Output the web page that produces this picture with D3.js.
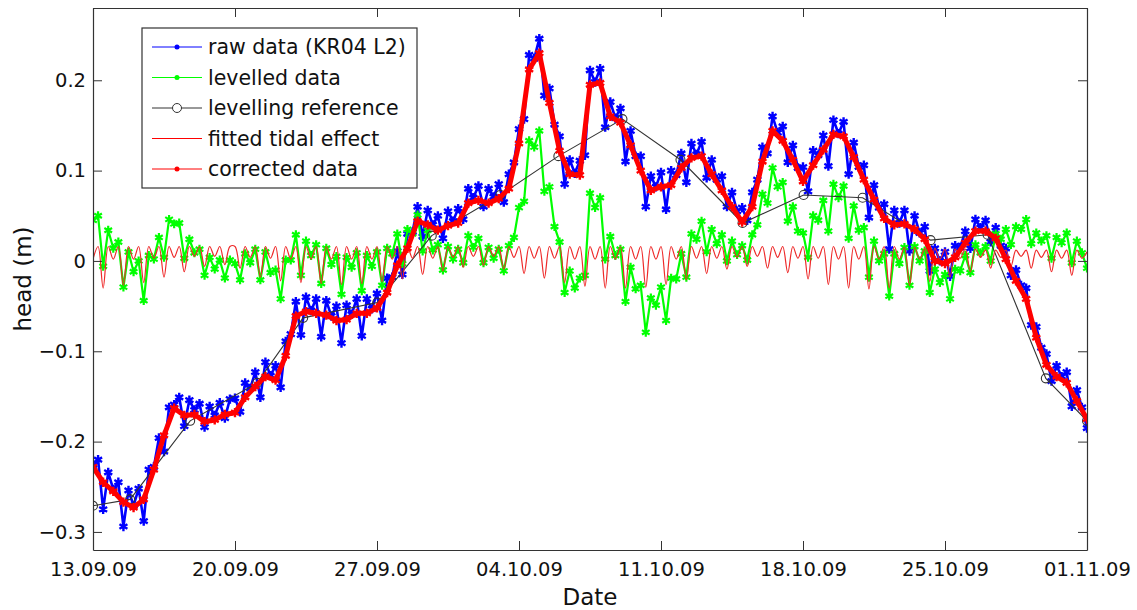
<!DOCTYPE html>
<html lang="en">
<head>
<meta charset="UTF-8">
<title>head (m) - KR04 L2</title>
<script src="https://d3js.org/d3.v7.min.js"></script>
<style>
  body { margin: 0; background: #fff; }
  svg text { font-family: "DejaVu Sans", Arial, sans-serif; fill: #111; }
  .axis path, .axis line { stroke: #333; }
</style>
</head>
<body>
<svg id="chart" width="1137" height="610"></svg>
<script>
// ---- data ----
const dateTicks = ["13.09.09", "20.09.09", "27.09.09", "04.10.09", "11.10.09", "18.10.09", "25.10.09", "01.11.09"];
const yTicks = [-0.3, -0.2, -0.1, 0, 0.1, 0.2];
const yDomain = [-0.32, 0.28];
const stepHours = 6;            // raw, levelled, tidal
const correctedStepHours = 12;  // corrected

const rawData = [
  -0.226, -0.220, -0.275, -0.234, -0.253, -0.245, -0.294, -0.254,
  -0.271, -0.252, -0.288, -0.231, -0.228, -0.196, -0.211, -0.162,
  -0.159, -0.151, -0.183, -0.154, -0.165, -0.158, -0.184, -0.161,
  -0.171, -0.157, -0.174, -0.153, -0.152, -0.167, -0.135, -0.141,
  -0.123, -0.151, -0.112, -0.127, -0.116, -0.140, -0.089, -0.081,
  -0.045, -0.082, -0.040, -0.055, -0.042, -0.084, -0.044, -0.061,
  -0.050, -0.091, -0.049, -0.059, -0.042, -0.083, -0.042, -0.053,
  -0.036, -0.066, -0.019, -0.018, 0.011, -0.015, 0.030, 0.032,
  0.060, 0.027, 0.056, 0.040, 0.050, 0.025, 0.055, 0.044,
  0.058, 0.046, 0.080, 0.070, 0.083, 0.060, 0.080, 0.071,
  0.085, 0.065, 0.096, 0.109, 0.146, 0.157, 0.228, 0.224,
  0.246, 0.183, 0.191, 0.151, 0.138, 0.085, 0.112, 0.097,
  0.111, 0.117, 0.211, 0.198, 0.213, 0.148, 0.176, 0.158,
  0.169, 0.110, 0.144, 0.116, 0.116, 0.060, 0.094, 0.082,
  0.098, 0.057, 0.100, 0.095, 0.119, 0.087, 0.130, 0.118,
  0.132, 0.092, 0.112, 0.090, 0.094, 0.060, 0.076, 0.055,
  0.059, 0.045, 0.076, 0.090, 0.126, 0.119, 0.160, 0.142,
  0.149, 0.109, 0.128, 0.103, 0.104, 0.077, 0.122, 0.117,
  0.139, 0.105, 0.156, 0.141, 0.154, 0.096, 0.131, 0.104,
  0.106, 0.048, 0.084, 0.059, 0.063, 0.013, 0.056, 0.042,
  0.056, 0.011, 0.050, 0.031, 0.038, -0.011, 0.014, 0.000,
  0.010, -0.017, 0.017, 0.015, 0.033, 0.014, 0.046, 0.037,
  0.045, 0.021, 0.037, 0.017, 0.014, -0.016, -0.010, -0.027,
  -0.030, -0.071, -0.073, -0.096, -0.103, -0.133, -0.116, -0.128,
  -0.123, -0.161, -0.143, -0.162,
  -0.185
];

const levelledData = [
  0.045, 0.050, -0.006, 0.034, 0.014, 0.021, -0.029, 0.010,
  -0.012, 0.000, -0.044, 0.006, 0.002, 0.026, 0.004, 0.046,
  0.041, 0.042, 0.003, 0.024, 0.009, 0.013, -0.016, 0.004,
  -0.009, 0.001, -0.019, 0.001, -0.003, -0.021, 0.008, -0.002,
  0.013, -0.021, 0.010, -0.013, -0.010, -0.042, 0.001, 0.001,
  0.029, -0.016, 0.022, 0.006, 0.018, -0.025, 0.014, -0.004,
  0.005, -0.037, 0.004, -0.007, 0.009, -0.033, 0.006, -0.006,
  0.010, -0.027, 0.014, 0.008, 0.030, -0.003, 0.035, 0.030,
  0.051, 0.011, 0.034, 0.012, 0.018, -0.010, 0.016, 0.002,
  0.013, -0.002, 0.028, 0.015, 0.025, -0.002, 0.015, 0.003,
  0.013, -0.011, 0.017, 0.026, 0.059, 0.066, 0.133, 0.126,
  0.144, 0.077, 0.082, 0.038, 0.021, -0.035, -0.011, -0.030,
  -0.019, -0.016, 0.075, 0.059, 0.070, 0.002, 0.027, 0.006,
  0.013, -0.045, -0.007, -0.031, -0.027, -0.079, -0.041, -0.049,
  -0.029, -0.066, -0.019, -0.020, 0.008, -0.018, 0.030, 0.024,
  0.044, 0.010, 0.035, 0.019, 0.029, 0.000, 0.022, 0.007,
  0.017, 0.001, 0.029, 0.040, 0.074, 0.064, 0.103, 0.082,
  0.087, 0.044, 0.060, 0.033, 0.031, 0.004, 0.050, 0.045,
  0.067, 0.033, 0.085, 0.070, 0.083, 0.025, 0.061, 0.034,
  0.037, -0.018, 0.022, 0.000, 0.008, -0.039, 0.008, -0.003,
  0.015, -0.027, 0.016, 0.000, 0.011, -0.035, -0.009, -0.024,
  -0.015, -0.042, -0.009, -0.011, 0.006, -0.013, 0.018, 0.009,
  0.016, 0.000, 0.030, 0.024, 0.035, 0.018, 0.038, 0.035,
  0.046, 0.019, 0.031, 0.022, 0.028, 0.003, 0.026, 0.020,
  0.031, -0.002, 0.022, 0.009,
  -0.008
];

const tidalData = [
  0.002, 0.016, -0.030, 0.016, 0.002, 0.016, -0.027, 0.016,
  0.002, 0.016, -0.024, 0.016, 0.003, 0.016, -0.018, 0.016,
  0.004, 0.016, -0.012, 0.016, 0.005, 0.016, -0.006, 0.016,
  0.005, 0.016, -0.004, 0.016, 0.016, -0.008, 0.016, 0.004,
  0.016, -0.018, 0.016, 0.003, 0.016, -0.022, 0.016, 0.002,
  0.016, -0.024, 0.016, 0.002, 0.016, -0.025, 0.016, 0.002,
  0.016, -0.026, 0.016, 0.002, 0.016, -0.025, 0.016, 0.002,
  0.016, -0.023, 0.016, 0.002, 0.016, -0.020, 0.016, 0.003,
  0.016, -0.015, 0.016, 0.003, 0.016, -0.011, 0.016, 0.004,
  0.016, -0.007, 0.016, 0.005, 0.016, -0.005, 0.016, 0.005,
  0.016, -0.009, 0.016, 0.004, 0.016, -0.014, 0.016, 0.003,
  0.016, -0.019, 0.016, 0.003, 0.016, -0.024, 0.016, 0.002,
  0.016, -0.028, 0.016, 0.002, 0.016, -0.030, 0.016, 0.002,
  0.016, -0.030, 0.016, 0.002, 0.016, -0.029, 0.016, 0.002,
  0.016, -0.026, 0.016, 0.002, 0.016, -0.021, 0.016, 0.003,
  0.016, -0.014, 0.016, 0.003, 0.016, -0.009, 0.016, 0.004,
  0.016, -0.006, 0.016, 0.005, 0.016, -0.008, 0.016, 0.004,
  0.016, -0.013, 0.016, 0.003, 0.016, -0.020, 0.016, 0.003,
  0.016, -0.026, 0.016, 0.002, 0.016, -0.030, 0.016, 0.002,
  0.016, -0.031, 0.016, 0.002, 0.016, -0.030, 0.016, 0.002,
  0.015, -0.027, 0.015, 0.002, 0.014, -0.023, 0.014, 0.002,
  0.013, -0.018, 0.013, 0.003, 0.013, -0.012, 0.013, 0.004,
  0.012, -0.008, 0.012, 0.004, 0.012, -0.006, 0.012, 0.005,
  0.012, -0.008, 0.012, 0.004, 0.012, -0.012, 0.012, 0.003,
  0.012, -0.016, 0.012, 0.003,
  0.010
];

const correctedData = [
  -0.228, -0.245, -0.255, -0.267, -0.273, -0.264, -0.231, -0.193, -0.163, -0.171,
  -0.170, -0.178, -0.176, -0.170, -0.168, -0.151, -0.139, -0.128, -0.132, -0.105,
  -0.061, -0.056, -0.058, -0.060, -0.066, -0.065, -0.058, -0.058, -0.052, -0.035,
  -0.005, 0.014, 0.044, 0.040, 0.034, 0.039, 0.042, 0.064, 0.067, 0.064,
  0.069, 0.080, 0.130, 0.212, 0.230, 0.175, 0.122, 0.096, 0.095, 0.195,
  0.197, 0.160, 0.153, 0.128, 0.100, 0.078, 0.082, 0.084, 0.103, 0.114,
  0.116, 0.096, 0.078, 0.060, 0.043, 0.060, 0.110, 0.144, 0.133, 0.112,
  0.088, 0.106, 0.123, 0.140, 0.138, 0.115, 0.090, 0.068, 0.047, 0.040,
  0.041, 0.035, 0.024, 0.000, -0.003, 0.004, 0.020, 0.033, 0.033, 0.025,
  0.002, -0.022, -0.042, -0.085, -0.115, -0.128, -0.135, -0.155, -0.175
];

// levelling reference: day offset from 13.09.09 and head
const refDays = [0, 1.83, 4.79, 8.09, 10.36, 14.01, 16.70, 20.08, 22.94, 26.10, 28.96, 32.02, 35.03, 37.94, 41.29, 44.10, 46.97, 49.0];
const refValues = [-0.271, -0.264, -0.177, -0.135, -0.063, -0.046, 0.028, 0.073, 0.116, 0.157, 0.112, 0.042, 0.073, 0.070, 0.023, 0.029, -0.130, -0.177];

const legendItems = [
  { label: "raw data (KR04 L2)", color: "#0000ff", marker: "dot" },
  { label: "levelled data", color: "#00ff00", marker: "dot" },
  { label: "levelling reference", color: "#333333", marker: "circle" },
  { label: "fitted tidal effect", color: "#ff0000", marker: "none" },
  { label: "corrected data", color: "#ff0000", marker: "dot" }
];

// ---- chart ----
const margin = { top: 8, right: 50, bottom: 60, left: 93 };
const width = 1137 - margin.left - margin.right;
const height = 610 - margin.top - margin.bottom;

const parseDate = d3.utcParse("%d.%m.%y");
const t0 = parseDate(dateTicks[0]);
const hour = 3600 * 1000;

const svg = d3.select("#chart");
const g = svg.append("g").attr("transform", `translate(${margin.left},${margin.top})`);

const x = d3.scaleUtc()
  .domain([t0, parseDate(dateTicks[dateTicks.length - 1])])
  .range([0, width]);
const y = d3.scaleLinear().domain(yDomain).range([height, 0]);

g.append("defs").append("clipPath").attr("id", "clip")
  .append("rect").attr("width", width).attr("height", height);

const toPoints = (arr, step) => arr.map((v, i) => ({ t: new Date(t0.getTime() + i * step * hour), v }));
const rawPts = toPoints(rawData, stepHours);
const levPts = toPoints(levelledData, stepHours);
const tidePts = toPoints(tidalData, stepHours);
const corrPts = toPoints(correctedData, correctedStepHours);
const refPts = refDays.map((d, i) => ({ t: new Date(t0.getTime() + d * 24 * hour), v: refValues[i] }));

const line = d3.line().x(d => x(d.t)).y(d => y(d.v));
const smooth = d3.line().curve(d3.curveCatmullRom).x(d => x(d.t)).y(d => y(d.v));
const star = d3.symbol().type(d3.symbolAsterisk);

const plot = g.append("g").attr("clip-path", "url(#clip)");

function markedSeries(pts, color, lw, size, sw) {
  plot.append("path").datum(pts)
    .attr("fill", "none").attr("stroke", color).attr("stroke-width", lw)
    .attr("stroke-linejoin", "round").attr("d", line);
  plot.append("g").selectAll("path").data(pts).join("path")
    .attr("transform", d => `translate(${x(d.t)},${y(d.v)})`)
    .attr("d", star.size(size)())
    .attr("fill", "none").attr("stroke", color).attr("stroke-width", sw);
}

markedSeries(rawPts, "#0000ff", 2.6, 60, 2.4);
markedSeries(levPts, "#00ff00", 2.2, 55, 2.2);

plot.append("path").datum(refPts)
  .attr("fill", "none").attr("stroke", "#333").attr("stroke-width", 1.1).attr("d", line);
plot.append("g").selectAll("circle").data(refPts).join("circle")
  .attr("cx", d => x(d.t)).attr("cy", d => y(d.v)).attr("r", 4.5)
  .attr("fill", "none").attr("stroke", "#333").attr("stroke-width", 1.1);

plot.append("path").datum(tidePts)
  .attr("fill", "none").attr("stroke", "#ee2a2a").attr("stroke-width", 1.2).attr("d", smooth);

markedSeries(corrPts, "#ff0000", 5, 60, 2.4);

// axes with inward ticks, box on all sides
const xTickDates = dateTicks.map(parseDate);
g.append("g").attr("class", "axis").attr("transform", `translate(0,${height})`)
  .call(d3.axisBottom(x).tickValues(xTickDates).tickFormat(d3.utcFormat("%d.%m.%y"))
    .tickSizeInner(-9).tickSizeOuter(0).tickPadding(12))
  .call(a => a.selectAll("text").attr("font-size", 19.5));
g.append("g").attr("class", "axis")
  .call(d3.axisTop(x).tickValues(xTickDates).tickFormat("").tickSizeInner(-9).tickSizeOuter(0));
g.append("g").attr("class", "axis")
  .call(d3.axisLeft(y).tickValues(yTicks).tickFormat(d => d === 0 ? "0" : d3.format(".1f")(d))
    .tickSizeInner(-9).tickSizeOuter(0).tickPadding(7))
  .call(a => a.selectAll("text").attr("font-size", 19.5));
g.append("g").attr("class", "axis").attr("transform", `translate(${width},0)`)
  .call(d3.axisRight(y).tickValues(yTicks).tickFormat("").tickSizeInner(-9).tickSizeOuter(0));
g.selectAll(".axis path.domain").attr("stroke-width", 1.2);

g.append("text").attr("x", width / 2).attr("y", height + 55)
  .attr("text-anchor", "middle").attr("font-size", 23).text("Date");
g.append("text").attr("transform", `translate(${-62},${height / 2}) rotate(-90)`)
  .attr("text-anchor", "middle").attr("font-size", 23).text("head (m)");

// legend
const legend = g.append("g").attr("transform", "translate(49,20)");
legend.append("rect").attr("width", 275).attr("height", 160)
  .attr("fill", "#fff").attr("stroke", "#333").attr("stroke-width", 1.2);
const rows = legend.selectAll("g.row").data(legendItems).join("g").attr("class", "row")
  .attr("transform", (d, i) => `translate(0,${19 + i * 30.5})`);
rows.append("line").attr("x1", 10).attr("x2", 60)
  .attr("stroke", d => d.color).attr("stroke-width", 1);
rows.filter(d => d.marker === "dot").append("circle")
  .attr("cx", 35).attr("r", 2.5).attr("fill", d => d.color);
rows.filter(d => d.marker === "circle").append("circle")
  .attr("cx", 35).attr("r", 4.5).attr("fill", "#fff").attr("stroke", d => d.color);
rows.append("text").attr("x", 66).attr("dy", "0.36em").attr("font-size", 20.5).text(d => d.label);
</script>
</body>
</html>
